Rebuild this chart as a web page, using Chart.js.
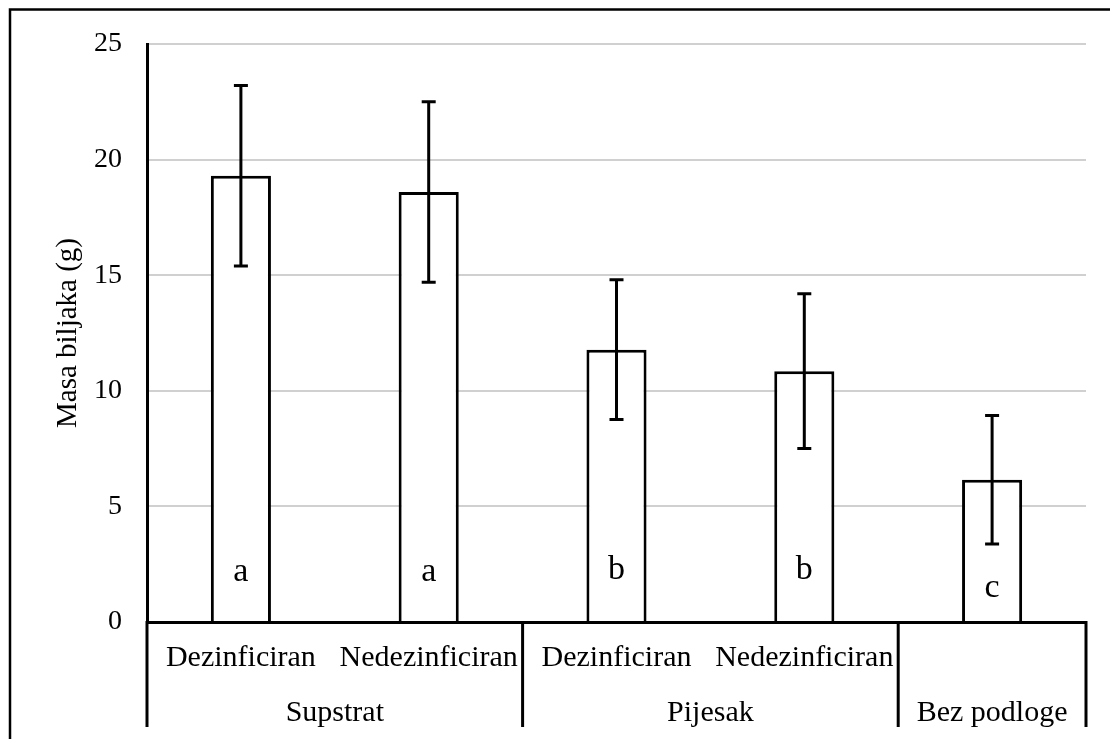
<!DOCTYPE html>
<html>
<head>
<meta charset="utf-8">
<script src="https://cdn.jsdelivr.net/npm/chart.js@4.4.1/dist/chart.umd.min.js"></script>
<style>
  html, body { margin: 0; padding: 0; background: #fff; }
  #wrap { width: 1110px; height: 739px; position: relative; }
</style>
</head>
<body>
<div id="wrap"><canvas id="grafikon"></canvas></div>
<script>
// podaci očitani sa slike
const kategorije = ['Dezinficiran', 'Nedezinficiran', 'Dezinficiran', 'Nedezinficiran', ''];
const grupe = ['Supstrat', 'Pijesak', 'Bez podloge'];
const velicinaGrupa = [2, 2, 1];
const masa = [19.3, 18.6, 11.78, 10.85, 6.15];
const stdDev = [3.9, 3.9, 3.02, 3.35, 2.78];
const oznake = ['a', 'a', 'b', 'b', 'c'];
const yTicks = [0, 5, 10, 15, 20, 25];

const FONT = '"Liberation Serif", "Times New Roman", serif';

// okvir oko cijele slike
const okvirPlugin = {
    id: 'okvir',
    afterDraw(chart) {
        const ctx = chart.ctx;
        ctx.save();
        ctx.strokeStyle = '#000';
        ctx.lineWidth = 2.5;
        ctx.beginPath();
        ctx.moveTo(10, 739);
        ctx.lineTo(10, 9.5);
        ctx.lineTo(1110, 9.5);
        ctx.stroke();
        ctx.restore();
    }
};

// error bars + slova iznad baze stupca
const errorPlugin = {
    id: 'errorBars',
    afterDatasetsDraw(chart) {
        const ctx = chart.ctx;
        const yScale = chart.scales.y;
        const meta = chart.getDatasetMeta(0);
        ctx.save();
        ctx.strokeStyle = '#000';
        ctx.lineWidth = 3;
        meta.data.forEach(function(bar, i) {
            const x = bar.x;
            const gore = yScale.getPixelForValue(masa[i] + stdDev[i]);
            const dolje = yScale.getPixelForValue(masa[i] - stdDev[i]);
            ctx.beginPath();
            ctx.moveTo(x, gore);
            ctx.lineTo(x, dolje);
            ctx.moveTo(x - 7, gore);
            ctx.lineTo(x + 7, gore);
            ctx.moveTo(x - 7, dolje);
            ctx.lineTo(x + 7, dolje);
            ctx.stroke();
        });

        ctx.fillStyle = '#000';
        ctx.font = '34px ' + FONT;
        ctx.textAlign = 'center';
        ctx.textBaseline = 'alphabetic';
        const pomak = [41, 41, 43, 43, 25];
        meta.data.forEach(function(bar, i) {
            ctx.fillText(oznake[i], bar.x, chart.chartArea.bottom - pomak[i]);
        });
        ctx.restore();
    }
};

// druga razina kategorija na x osi
const grupePlugin = {
    id: 'grupe',
    afterDraw(chart) {
        const ctx = chart.ctx;
        const xScale = chart.scales.x;
        const dno = chart.chartArea.bottom;
        const korak = (xScale.right - xScale.left) / kategorije.length;
        ctx.save();
        ctx.strokeStyle = '#000';
        ctx.lineWidth = 3;
        ctx.fillStyle = '#000';
        ctx.font = '30px ' + FONT;
        ctx.textAlign = 'center';
        ctx.textBaseline = 'alphabetic';

        let start = 0;
        const granice = [xScale.left];
        grupe.forEach(function(g, i) {
            const kraj = start + velicinaGrupa[i];
            const x0 = xScale.getPixelForValue(start) - korak / 2;
            const x1 = xScale.getPixelForValue(kraj - 1) + korak / 2;
            granice.push(x1);
            ctx.fillText(g, (x0 + x1) / 2, dno + 99);
            start = kraj;
        });

        granice.forEach(function(x) {
            ctx.beginPath();
            ctx.moveTo(x, dno - 1);
            ctx.lineTo(x, dno + 105);
            ctx.stroke();
        });
        ctx.restore();
    }
};

const ctx = document.getElementById('grafikon').getContext('2d');
new Chart(ctx, {
    type: 'bar',
    data: {
        labels: kategorije,
        datasets: [{
            label: 'Masa biljaka (g)',
            data: masa,
            backgroundColor: '#fff',
            borderColor: '#000',
            borderWidth: 3,
            borderSkipped: 'bottom',
            barPercentage: 0.32,
            categoryPercentage: 1.0
        }]
    },
    options: {
        responsive: true,
        maintainAspectRatio: false,
        animation: false,
        devicePixelRatio: 1,
        layout: {
            padding: { left: 0, right: 24, top: 44, bottom: 0 }
        },
        plugins: {
            legend: { display: false },
            tooltip: { enabled: false }
        },
        scales: {
            x: {
                grid: { display: false, drawTicks: false },
                border: { display: true, color: '#000', width: 3 },
                ticks: {
                    color: '#000',
                    font: { family: FONT, size: 30 },
                    padding: 18,
                    maxRotation: 0,
                    autoSkip: false
                },
                afterFit(scale) { scale.height = 117; }
            },
            y: {
                min: 0,
                max: 25,
                afterBuildTicks(scale) {
                    scale.ticks = yTicks.map(function(v) { return { value: v }; });
                },
                grid: { color: '#d0d0d0', lineWidth: 2, drawTicks: false },
                border: { display: true, color: '#000', width: 3 },
                ticks: {
                    color: '#000',
                    font: { family: FONT, size: 28 },
                    padding: 25
                },
                title: {
                    display: true,
                    text: 'Masa biljaka (g)',
                    color: '#000',
                    font: { family: FONT, size: 29 },
                    padding: { top: 51, bottom: 0 }
                },
                afterFit(scale) { scale.width = 147; }
            }
        }
    },
    plugins: [errorPlugin, grupePlugin, okvirPlugin]
});
</script>
</body>
</html>
